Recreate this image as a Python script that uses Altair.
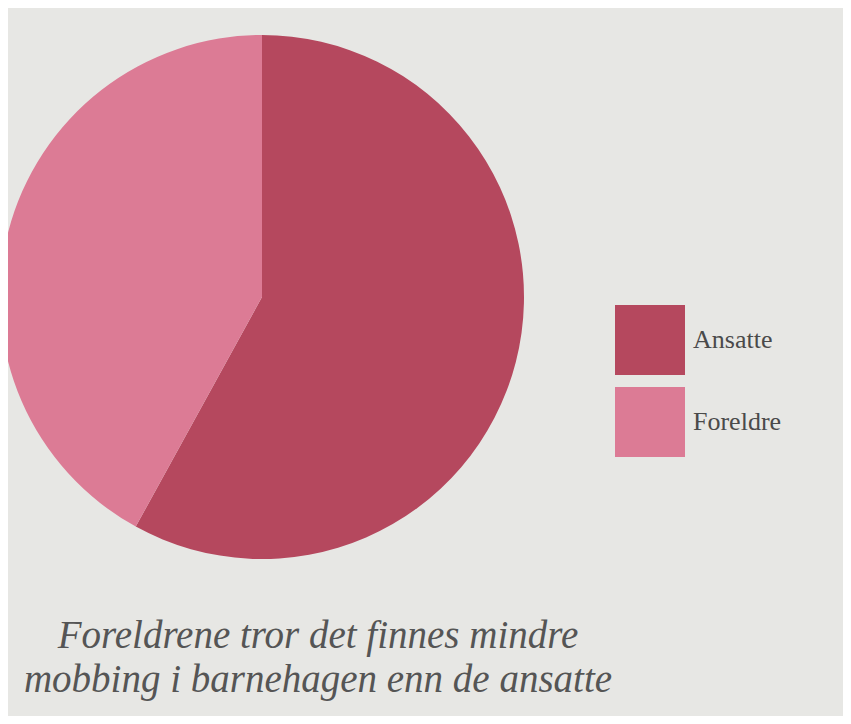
import altair as alt
import pandas as pd

categories = ["Ansatte", "Foreldre"]
shares = [58, 42]
colors = ["#b5485e", "#dc7b95"]
caption_lines = ["Foreldrene tror det finnes mindre", "mobbing i barnehagen enn de ansatte"]

df = pd.DataFrame({"gruppe": categories, "andel": shares, "rekke": [0, 1]})
cap = pd.DataFrame({"tekst": caption_lines, "linje": [0, 1]})

W, H = 835, 708

pie = alt.Chart(df).mark_arc(outerRadius=262, stroke=None).encode(
    theta=alt.Theta("andel:Q", stack=True),
    order=alt.Order("rekke:Q"),
    color=alt.Color(
        "gruppe:N",
        scale=alt.Scale(domain=categories, range=colors),
        legend=alt.Legend(
            title=None,
            orient="none",
            legendX=607,
            legendY=297,
            symbolType="square",
            symbolSize=4900,
            symbolStrokeWidth=0,
            symbolOpacity=1,
            labelFont="Liberation Serif",
            labelFontSize=26,
            labelColor="#4a4a4a",
            labelOffset=8,
            rowPadding=12,
        ),
    ),
    x=alt.value(254),
    y=alt.value(289),
)

def cap_line(i, yv):
    return alt.Chart(cap).transform_filter(alt.datum.linje == i).mark_text(
        font="Liberation Serif",
        fontStyle="italic",
        fontSize=39,
        color="#555555",
        align="center",
        baseline="alphabetic",
    ).encode(
        text="tekst:N",
        x=alt.value(310),
        y=alt.value(yv),
    )

chart = alt.layer(pie, cap_line(0, 640), cap_line(1, 684)).properties(
    width=W, height=H,
    autosize=alt.AutoSizeParams(type="none"),
    padding=0,
    background="#e7e7e4",
).configure_view(stroke=None)

chart.save("out.html", embed_options={"renderer": "svg", "actions": False})
